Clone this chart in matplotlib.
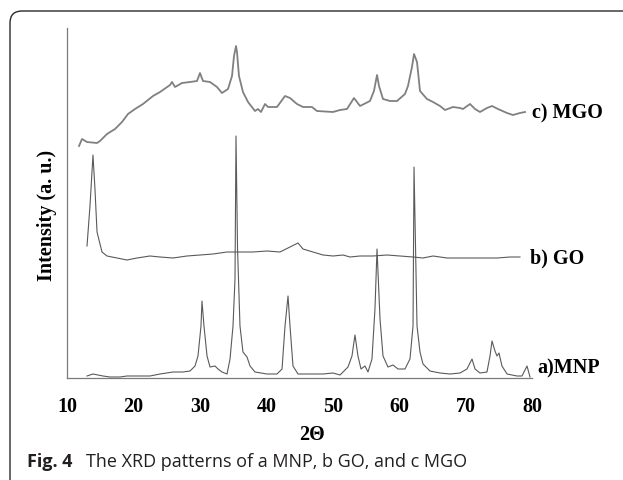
import matplotlib
matplotlib.use("Agg")
import matplotlib.pyplot as plt
from matplotlib.patches import FancyBboxPatch

# 2-theta (deg) and intensity (arbitrary units, already offset per pattern)
mgo_2theta = [11.81, 12.26, 13.01, 14.52, 14.97, 16.02, 17.23, 18.28, 19.18, 20.24,
              21.44, 22.95, 24.00, 25.51, 25.81, 26.26, 27.31, 28.52, 29.57, 30.02,
              30.47, 31.53, 32.58, 33.33, 34.24, 34.84, 35.14, 35.44, 35.59, 35.89,
              36.49, 37.25, 38.30, 38.75, 39.20, 39.81, 40.26, 41.61, 42.82, 43.57,
              44.62, 45.53, 46.88, 47.63, 50.04, 51.10, 52.15, 53.20, 54.11, 55.61,
              56.21, 56.67, 56.97, 57.57, 58.62, 59.68, 60.88, 61.33, 61.93, 62.24,
              62.69, 63.14, 64.19, 65.10, 66.15, 66.90, 68.11, 69.16, 69.61, 70.67,
              71.42, 72.17, 73.22, 73.98, 74.88, 76.24, 77.14, 78.19, 78.95]
mgo_int = [232, 239, 236, 235, 237, 244, 249, 256, 264, 269,
           274, 282, 286, 293, 296, 291, 295, 296, 297, 305,
           297, 296, 291, 285, 289, 302, 322, 332, 326, 302,
           286, 276, 267, 269, 266, 274, 271, 271, 282, 280,
           274, 271, 271, 267, 266, 268, 269, 280, 272, 277,
           287, 303, 292, 279, 277, 277, 284, 292, 311, 324,
           316, 287, 279, 276, 272, 268, 271, 270, 269, 274,
           269, 266, 270, 272, 269, 265, 263, 265, 266]

go_2theta = [13.01, 13.46, 13.91, 14.21, 14.52, 15.27, 16.02, 17.53, 19.03, 20.54,
             22.49, 24.00, 25.96, 28.06, 30.02, 31.98, 34.09, 36.04, 38.00, 40.11,
             42.06, 43.57, 44.77, 45.53, 47.03, 48.54, 50.04, 51.55, 52.60, 54.11,
             56.06, 58.17, 60.13, 62.09, 63.59, 65.10, 67.20, 69.61, 72.17, 74.73,
             76.69, 78.19]
go_int = [132, 172, 223, 189, 146, 126, 122, 120, 118, 120,
          122, 121, 120, 122, 123, 124, 126, 126, 126, 127,
          126, 131, 135, 129, 126, 123, 122, 123, 121, 122,
          122, 123, 122, 121, 120, 122, 120, 120, 120, 120,
          121, 121]

mnp_2theta = [13.01, 13.91, 15.42, 16.47, 17.98, 19.03, 20.99, 22.49, 24.00, 25.96,
              27.46, 28.52, 29.27, 29.72, 30.17, 30.32, 30.62, 31.08, 31.53, 32.28,
              32.73, 33.33, 34.09, 34.54, 34.99, 35.29, 35.44, 35.67, 36.04, 36.49,
              37.10, 37.55, 38.30, 40.11, 41.61, 42.37, 42.82, 43.27, 43.57, 44.02,
              44.77, 46.13, 48.54, 50.04, 51.10, 52.30, 52.90, 53.35, 53.80, 54.26,
              54.86, 55.31, 55.91, 56.36, 56.67, 57.12, 57.57, 58.32, 59.07, 59.83,
              60.88, 61.63, 62.09, 62.24, 62.69, 63.14, 63.59, 64.64, 66.15, 67.65,
              69.16, 70.21, 70.97, 71.42, 72.17, 73.22, 73.68, 73.98, 74.43, 74.73,
              75.03, 75.48, 76.24, 77.74, 78.49, 79.25, 79.70]
mnp_int = [2, 4, 2, 1, 1, 2, 2, 2, 4, 6,
           6, 7, 12, 22, 52, 77, 52, 22, 11, 12,
           9, 6, 4, 19, 52, 99, 242, 130, 52, 26,
           21, 12, 6, 4, 4, 9, 52, 82, 52, 12,
           4, 4, 4, 5, 3, 11, 22, 43, 22, 9,
           12, 6, 19, 69, 129, 59, 22, 11, 13, 9,
           9, 19, 52, 211, 52, 26, 14, 7, 5, 4,
           5, 9, 19, 9, 5, 6, 22, 37, 27, 22,
           25, 12, 4, 2, 2, 12, 1]

x_ticks = [10, 20, 30, 40, 50, 60, 70, 80]

serif = "Liberation Serif"
W, H = 623, 481

fig = plt.figure(figsize=(W / 100, H / 100), dpi=100)
ax = fig.add_axes([67 / W, 1 - 379 / H, (532 - 67) / W, (379 - 29) / H])

ax.plot(mnp_2theta, mnp_int, color="#5a5a5a", lw=0.8)
ax.plot(go_2theta, go_int, color="#5a5a5a", lw=0.8)
ax.plot(mgo_2theta, mgo_int, color="#808080", lw=1.3)

ax.set_xlim(10, 80)
ax.set_ylim(0, 350)
ax.set_xticks(x_ticks)
ax.set_yticks([])
ax.tick_params(axis="x", length=0, pad=13)
for lab in ax.get_xticklabels():
    lab.set_fontfamily(serif)
    lab.set_fontweight("bold")
    lab.set_fontsize(14.5)
for s in ["top", "right"]:
    ax.spines[s].set_visible(False)
for s in ["left", "bottom"]:
    ax.spines[s].set_color("#7a7a7a")
    ax.spines[s].set_linewidth(0.9)

lab_kw = dict(family=serif, weight="bold", fontsize=14.5, va="center", ha="left", clip_on=False)
ax.text(80.0, 266, "c) MGO", **lab_kw)
ax.text(79.7, 121, "b) GO", **lab_kw)
ax.text(80.75, 11, "a)MNP", **lab_kw)

fig.text(47 / W, 1 - 215 / H, "Intensity (a. u.)", family=serif, weight="bold",
         fontsize=14.5, rotation=90, ha="center", va="center")
fig.text(312 / W, 1 - 435 / H, "2\u0398", family=serif, weight="bold",
         fontsize=14.5, ha="center", va="center")

fig.text(27 / W, 1 - 462 / H, "Fig. 4", family="Open Sans", weight="bold",
         fontsize=13, ha="left", va="center", color="#231f20")
fig.text(86 / W, 1 - 462 / H, "The XRD patterns of a MNP, b GO, and c MGO",
         family="Open Sans", fontsize=13, ha="left", va="center", color="#231f20")

# rounded frame around the figure panel (runs off the right and bottom edges)
box = FancyBboxPatch((0.10, -0.5), 6.6, 4.69 + 0.5,
                     boxstyle="round,pad=0,rounding_size=0.12",
                     transform=fig.dpi_scale_trans, fill=False,
                     edgecolor="#2a2a2a", lw=1.0, clip_on=False)
fig.add_artist(box)

fig.savefig("out.png", dpi=100)
